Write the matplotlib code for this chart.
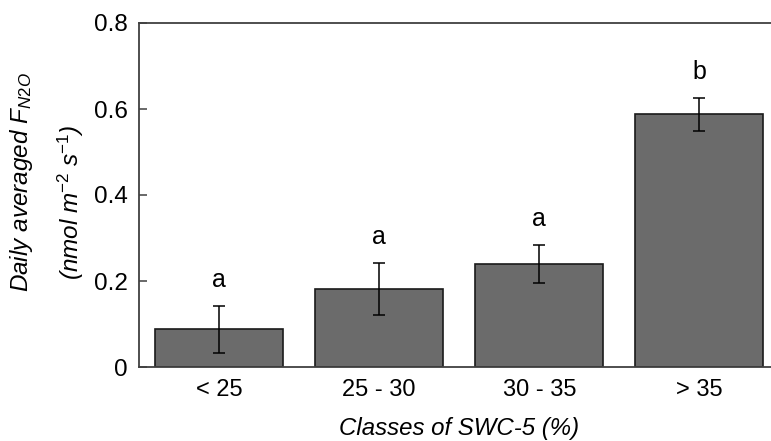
import matplotlib
matplotlib.use("Agg")
import matplotlib.pyplot as plt

categories = ["< 25", "25 - 30", "30 - 35", "> 35"]
means = [0.088, 0.181, 0.240, 0.588]
errors = [0.055, 0.060, 0.044, 0.038]
letters = ["a", "a", "a", "b"]
yticks = [0, 0.2, 0.4, 0.6, 0.8]
ytick_labels = ["0", "0.2", "0.4", "0.6", "0.8"]

plt.rcParams['font.family'] = ['Liberation Sans', 'DejaVu Sans']
plt.rcParams['mathtext.fontset'] = 'custom'
plt.rcParams['mathtext.rm'] = 'Liberation Sans'
plt.rcParams['mathtext.it'] = 'Liberation Sans:italic'

fig = plt.figure(figsize=(7.71, 4.41), dpi=100)
ax = fig.add_axes([139/771, 74/441, (779.5-139)/771, 344/441])

x = list(range(len(categories)))
ax.bar(x, means, width=0.8, color='#6b6b6b', edgecolor='#1a1a1a', linewidth=1.2, zorder=2)
ax.errorbar(x, means, yerr=errors, fmt='none', ecolor='black', elinewidth=1.1,
            capsize=4.2, capthick=1.1, zorder=3)
for xi, m, e, l in zip(x, means, errors, letters):
    ax.text(xi, m + e + 0.044, l, ha='center', va='baseline', fontsize=18)

ax.set_xlim(-0.5, 3.5)
ax.set_ylim(0, 0.8)
ax.set_yticks(yticks)
ax.set_yticklabels(ytick_labels)
ax.set_xticks(x)
ax.set_xticklabels(categories)
ax.tick_params(axis='y', direction='in', length=6, width=1.1, color='#404040', pad=8, labelsize=17.5)
ax.tick_params(axis='x', length=0, pad=9, labelsize=17)
for s in ['left', 'top', 'bottom', 'right']:
    ax.spines[s].set_color('#404040')
    ax.spines[s].set_linewidth(1.3)

ax.set_xlabel('Classes of SWC-5 (%)', fontsize=17.3, style='italic', labelpad=11)

fig.text(22/771, 1 - 182/441, r'Daily averaged $F_{\mathit{N2O}}$', rotation=90,
         ha='center', va='center', fontsize=17.5, style='italic')
fig.text(71/771, 1 - 202/441, r'(nmol m$^{\mathit{-2}}$ s$^{\mathit{-1}}$)', rotation=90,
         ha='center', va='center', fontsize=17.5, style='italic')

fig.savefig('out.png', dpi=100)
